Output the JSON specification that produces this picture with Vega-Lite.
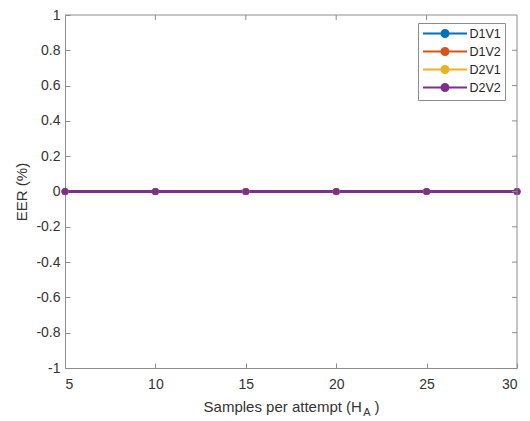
{
  "$schema": "https://vega.github.io/schema/vega-lite/v6.json",
  "width": 452,
  "height": 353,
  "autosize": {"type": "none"},
  "padding": {"left": 65, "top": 15, "right": 13, "bottom": 53},
  "background": "white",
  "config": {
    "view": {"stroke": null},
    "font": "Liberation Sans",
    "axis": {
      "grid": false,
      "zindex": 1,
      "domainColor": "#8c8c8c",
      "domainWidth": 1,
      "tickColor": "#8c8c8c",
      "tickSize": -5,
      "tickWidth": 1,
      "labelFont": "Liberation Sans",
      "labelFontSize": 14,
      "labelColor": "#333333",
      "titleFont": "Liberation Sans",
      "titleFontSize": 15,
      "titleFontWeight": "normal",
      "titleColor": "#333333"
    }
  },
  "datasets": {
    "eer": [
      {"series": "D1V1", "samples": 5, "eer": 0},
      {"series": "D1V1", "samples": 10, "eer": 0},
      {"series": "D1V1", "samples": 15, "eer": 0},
      {"series": "D1V1", "samples": 20, "eer": 0},
      {"series": "D1V1", "samples": 25, "eer": 0},
      {"series": "D1V1", "samples": 30, "eer": 0},
      {"series": "D1V2", "samples": 5, "eer": 0},
      {"series": "D1V2", "samples": 10, "eer": 0},
      {"series": "D1V2", "samples": 15, "eer": 0},
      {"series": "D1V2", "samples": 20, "eer": 0},
      {"series": "D1V2", "samples": 25, "eer": 0},
      {"series": "D1V2", "samples": 30, "eer": 0},
      {"series": "D2V1", "samples": 5, "eer": 0},
      {"series": "D2V1", "samples": 10, "eer": 0},
      {"series": "D2V1", "samples": 15, "eer": 0},
      {"series": "D2V1", "samples": 20, "eer": 0},
      {"series": "D2V1", "samples": 25, "eer": 0},
      {"series": "D2V1", "samples": 30, "eer": 0},
      {"series": "D2V2", "samples": 5, "eer": 0},
      {"series": "D2V2", "samples": 10, "eer": 0},
      {"series": "D2V2", "samples": 15, "eer": 0},
      {"series": "D2V2", "samples": 20, "eer": 0},
      {"series": "D2V2", "samples": 25, "eer": 0},
      {"series": "D2V2", "samples": 30, "eer": 0}
    ],
    "xticks": [
      {"tick": 10}, {"tick": 15}, {"tick": 20}, {"tick": 25}
    ],
    "yticks": [
      {"tick": -0.8}, {"tick": -0.6}, {"tick": -0.4}, {"tick": -0.2}, {"tick": 0},
      {"tick": 0.2}, {"tick": 0.4}, {"tick": 0.6}, {"tick": 0.8}
    ],
    "subscript": [{"sub": "A"}]
  },
  "data": {"name": "eer"},
  "resolve": {"axis": {"x": "independent", "y": "independent"}},
  "layer": [
    {
      "mark": {"type": "line", "strokeWidth": 3, "clip": true},
      "encoding": {
        "x": {
          "field": "samples",
          "type": "quantitative",
          "scale": {"domain": [5, 30], "nice": false, "zero": false},
          "axis": {
            "orient": "bottom",
            "values": [5, 10, 15, 20, 25, 30],
            "labelPadding": 14.5,
            "title": "Samples per attempt (H\u00a0\u00a0\u00a0)",
            "titlePadding": 8
          }
        },
        "y": {
          "field": "eer",
          "type": "quantitative",
          "scale": {"domain": [-1, 1], "nice": false, "zero": false},
          "axis": {
            "orient": "left",
            "values": [-1, -0.8, -0.6, -0.4, -0.2, 0, 0.2, 0.4, 0.6, 0.8, 1],
            "labelExpr": "toString(datum.value)",
            "labelPadding": 10,
            "title": "EER (%)",
            "titlePadding": 6
          }
        },
        "color": {
          "field": "series",
          "type": "nominal",
          "scale": {
            "domain": ["D1V1", "D1V2", "D2V1", "D2V2"],
            "range": ["#0072BD", "#D95319", "#EDB120", "#7E2F8E"]
          },
          "legend": {
            "title": null,
            "orient": "none",
            "legendX": 353,
            "legendY": 8,
            "padding": 4,
            "rowPadding": 1,
            "strokeColor": "#8c8c8c",
            "fillColor": "white",
            "labelFont": "Liberation Sans",
            "labelFontSize": 12.5,
            "labelColor": "#262626",
            "symbolType": "M-4,0H4M0.64,0C0.64,0.3535 0.3535,0.64 0,0.64C-0.3535,0.64 -0.64,0.3535 -0.64,0C-0.64,-0.3535 -0.3535,-0.64 0,-0.64C0.3535,-0.64 0.64,-0.3535 0.64,0Z",
            "symbolSize": 121,
            "symbolStrokeWidth": 2,
            "symbolOffset": 16.5,
            "labelOffset": 18,
            "encode": {
              "symbols": {
                "update": {
                  "fill": {"scale": "color", "field": "value"},
                  "stroke": {"scale": "color", "field": "value"},
                  "strokeWidth": {"value": 2}
                }
              }
            }
          }
        }
      }
    },
    {
      "mark": {"type": "point", "filled": true, "size": 49, "opacity": 1, "clip": false},
      "encoding": {
        "x": {"field": "samples", "type": "quantitative", "axis": null},
        "y": {"field": "eer", "type": "quantitative", "axis": null},
        "color": {"field": "series", "type": "nominal", "legend": null}
      }
    },
    {
      "data": {"values": [{"edge": "frame"}]},
      "mark": {"type": "rule", "color": "#8c8c8c", "strokeWidth": 1},
      "encoding": {
        "x": {"datum": 30, "type": "quantitative", "axis": null},
        "y": {"datum": -1, "type": "quantitative", "axis": null},
        "y2": {"datum": 1}
      }
    },
    {
      "data": {"values": [{"edge": "frame"}]},
      "mark": {"type": "rule", "color": "#8c8c8c", "strokeWidth": 1},
      "encoding": {
        "x": {"datum": 5, "type": "quantitative", "axis": null},
        "x2": {"datum": 30},
        "y": {"datum": 1, "type": "quantitative", "axis": null}
      }
    },
    {
      "data": {"name": "xticks"},
      "mark": {"type": "rule", "color": "#8c8c8c", "strokeWidth": 1},
      "encoding": {
        "x": {"field": "tick", "type": "quantitative", "axis": null},
        "y": {"datum": 1, "type": "quantitative", "axis": null},
        "y2": {"datum": 0.9717}
      }
    },
    {
      "data": {"name": "yticks"},
      "mark": {"type": "rule", "color": "#8c8c8c", "strokeWidth": 1},
      "encoding": {
        "y": {"field": "tick", "type": "quantitative", "axis": null},
        "x": {"datum": 30, "type": "quantitative", "axis": null},
        "x2": {"datum": 29.7235}
      }
    },
    {
      "data": {"name": "subscript"},
      "mark": {"type": "text", "font": "Liberation Sans", "fontSize": 11, "color": "#333333", "baseline": "middle", "align": "center", "dy": 45, "clip": false},
      "encoding": {
        "x": {"datum": 21.7, "type": "quantitative", "axis": null},
        "y": {"datum": -1, "type": "quantitative", "axis": null},
        "text": {"field": "sub"}
      }
    }
  ]
}
